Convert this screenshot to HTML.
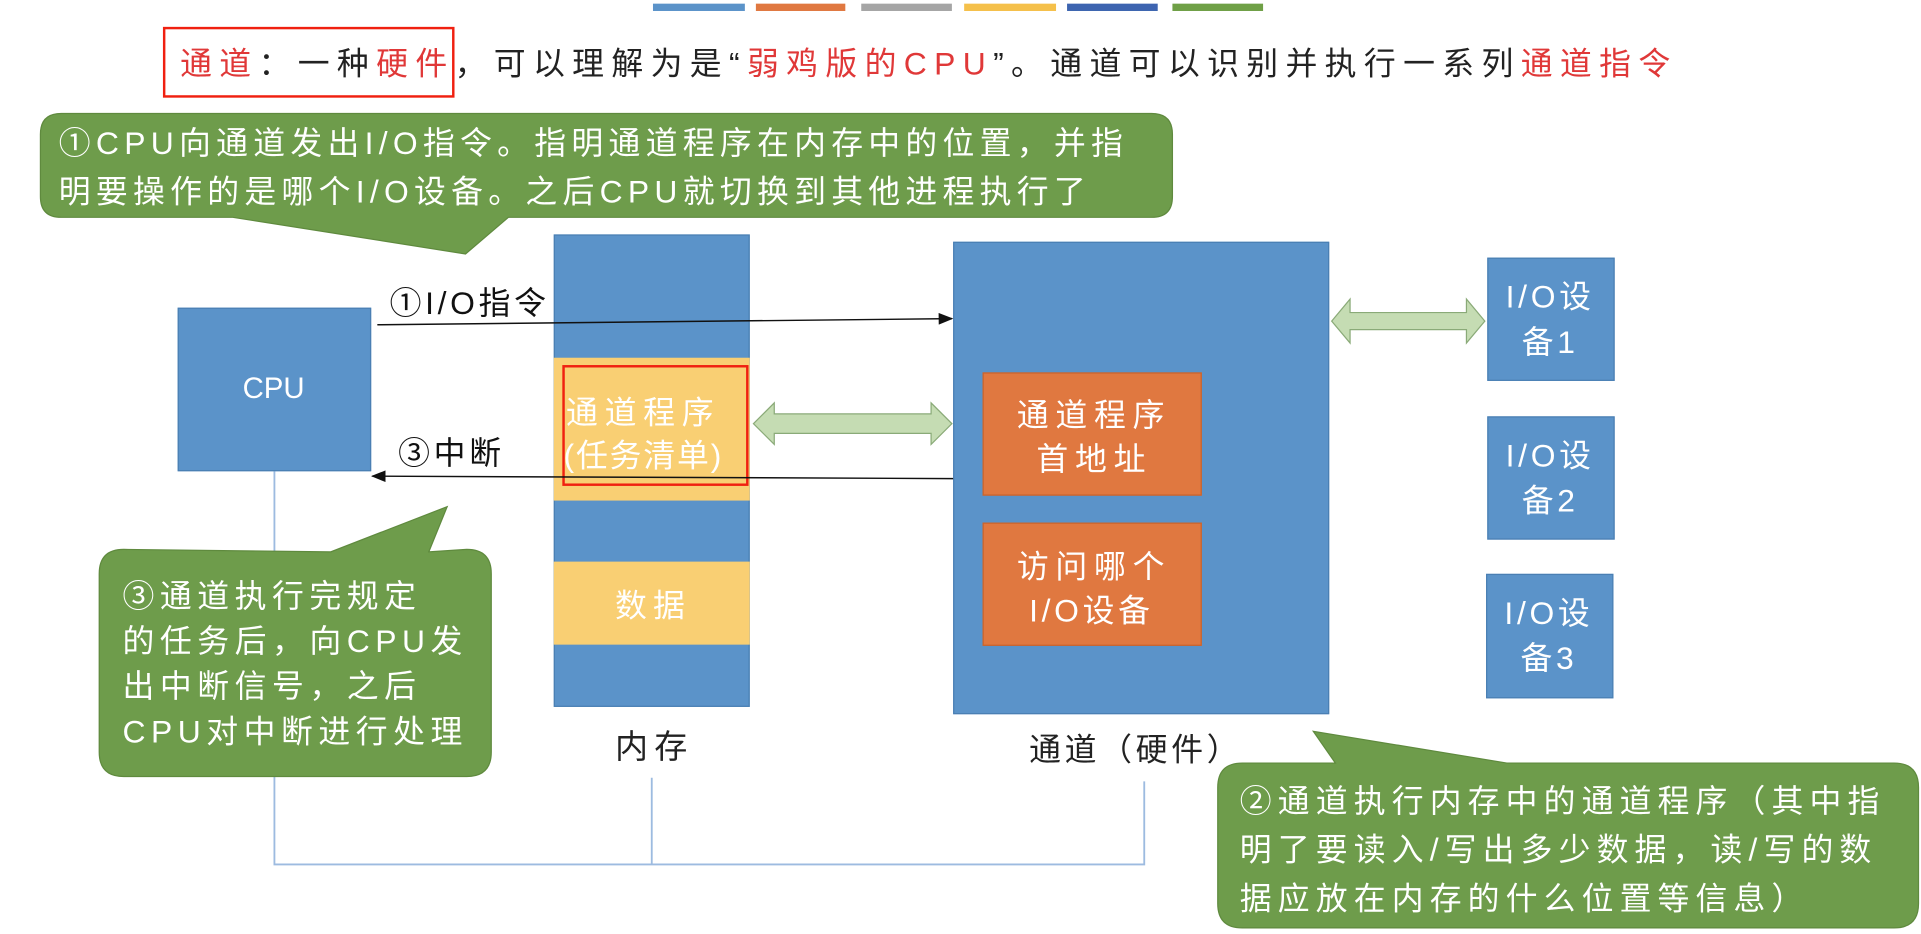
<!DOCTYPE html>
<html><head><meta charset="utf-8"><style>
html,body{margin:0;padding:0;background:#fff;overflow:hidden;width:1921px;height:934px}
#s{position:absolute;left:0;top:0;width:1568px;height:765px;transform:scale(1.2251,1.2209);transform-origin:0 0;font-family:"Liberation Sans","Noto Sans CJK SC",sans-serif}
.a{position:absolute;box-sizing:border-box}
.blue{background:#5b93c9;border:1px solid #4a7fb3}
.yel{background:#f9cf73}
.org{background:#e07840;border:1px solid #c8632c}
.t{position:absolute;white-space:nowrap}
.w{color:#fff}
.r{color:#e03838}
</style></head><body><div id="s">
<div class="a" style="left:533px;top:3px;width:75px;height:6px;background:#5b93c9"></div>
<div class="a" style="left:617px;top:3px;width:73px;height:6px;background:#e07840"></div>
<div class="a" style="left:703px;top:3px;width:74px;height:6px;background:#a5a5a5"></div>
<div class="a" style="left:787px;top:3px;width:75px;height:6px;background:#f5c04a"></div>
<div class="a" style="left:871px;top:3px;width:74px;height:6px;background:#3d64b0"></div>
<div class="a" style="left:957px;top:3px;width:74px;height:6px;background:#6fa046"></div>

<div class="t" style="left:147px;top:32px;font-size:26px;letter-spacing:6px;color:#222"><span class="r">通道</span>：一种<span class="r">硬件</span>，可以理解为是“<span class="r">弱鸡版的CPU</span>”。通道可以识别并执行一系列<span class="r">通道指令</span></div>
<div class="a" style="left:133px;top:22px;width:238px;height:58px;border:2px solid #f02010"></div>

<svg class="a" style="left:0;top:0" width="1568" height="765">
<polyline points="224,386 224,708 934,708 934,640" fill="none" stroke="#9dbbe0" stroke-width="1.5"/>
<line x1="532" y1="637" x2="532" y2="708" stroke="#9dbbe0" stroke-width="1.5"/>
<path d="M33 110 Q33 93 50 93 L940 93 Q957 93 957 110 L957 161 Q957 178 940 178 L415 178 L380 208 L190 178 L50 178 Q33 178 33 161Z" fill="#6e9c4b" stroke="#5f8a3e"/>
<path d="M81 470 Q81 450 101 450 L270 452 L365 415 L350 452 L381 450 Q401 450 401 470 L401 616 Q401 636 381 636 L101 636 Q81 636 81 616Z" fill="#6e9c4b" stroke="#5f8a3e"/>
<path d="M994 645 Q994 625 1014 625 L1090 625 L1072 599 L1230 625 L1546 625 Q1566 625 1566 645 L1566 740 Q1566 760 1546 760 L1014 760 Q994 760 994 740Z" fill="#6e9c4b" stroke="#5f8a3e"/>
</svg>

<div class="a blue" style="left:452px;top:192px;width:160px;height:387px"></div>
<div class="a yel" style="left:452px;top:293px;width:160px;height:117px"></div>
<div class="a yel" style="left:452px;top:460px;width:160px;height:68px"></div>
<div class="t w" style="left:462px;top:318px;font-size:26px;letter-spacing:5.5px">通道程序</div>
<div class="t w" style="left:460px;top:353px;font-size:26px;letter-spacing:1.5px">(任务清单)</div>
<div class="a" style="left:459px;top:299px;width:152px;height:99px;border:2px solid #f02010"></div>
<div class="t w" style="left:502px;top:476px;font-size:26px;letter-spacing:5px">数据</div>
<div class="t" style="left:502px;top:590px;font-size:27px;letter-spacing:5px;color:#222">内存</div>

<div class="a blue" style="left:145px;top:252px;width:158px;height:134px"></div>
<div class="t w" style="left:198px;top:305px;font-size:24px">CPU</div>

<div class="a blue" style="left:778px;top:198px;width:307px;height:387px"></div>
<div class="a org" style="left:802px;top:305px;width:179px;height:101px"></div>
<div class="a org" style="left:802px;top:428px;width:179px;height:101px"></div>
<div class="t w" style="left:830px;top:320px;font-size:26px;letter-spacing:5.5px">通道程序</div>
<div class="t w" style="left:846px;top:356px;font-size:26px;letter-spacing:5.5px">首地址</div>
<div class="t w" style="left:830px;top:444px;font-size:26px;letter-spacing:5.5px">访问哪个</div>
<div class="t w" style="left:840px;top:480px;font-size:26px;letter-spacing:3px">I/O设备</div>
<div class="t" style="left:840px;top:594px;font-size:26px;letter-spacing:3px;color:#222">通道（硬件）</div>

<div class="a blue" style="left:1214px;top:211px;width:104px;height:101px"></div>
<div class="a blue" style="left:1214px;top:341px;width:104px;height:101px"></div>
<div class="a blue" style="left:1213px;top:470px;width:104px;height:102px"></div>
<div class="t w" style="left:1229px;top:225px;font-size:26px;letter-spacing:3px;line-height:37px;text-align:center">I/O设<br>备1</div>
<div class="t w" style="left:1229px;top:355px;font-size:26px;letter-spacing:3px;line-height:37px;text-align:center">I/O设<br>备2</div>
<div class="t w" style="left:1228px;top:484px;font-size:26px;letter-spacing:3px;line-height:37px;text-align:center">I/O设<br>备3</div>

<svg class="a" style="left:0;top:0" width="1568" height="765">
<defs><marker id="m" markerWidth="10" markerHeight="8" refX="9" refY="4" orient="auto"><path d="M0 0L10 4L0 8Z" fill="#111"/></marker></defs>
<line x1="308" y1="266" x2="777" y2="261" stroke="#111" stroke-width="1.2" marker-end="url(#m)"/>
<line x1="778" y1="392" x2="304" y2="390" stroke="#111" stroke-width="1.2" marker-end="url(#m)"/>
<path d="M615 347 L632 330 L632 339 L760 339 L760 330 L777 347 L760 364 L760 355 L632 355 L632 364Z" fill="#c5dcb3" stroke="#8aaa78"/>
<path d="M1087 263 L1102 245 L1102 256 L1197 256 L1197 245 L1212 263 L1197 281 L1197 270 L1102 270 L1102 281Z" fill="#c5dcb3" stroke="#8aaa78"/>
</svg>
<div class="t" style="left:318px;top:228px;font-size:26px;letter-spacing:3px;color:#111">①I/O指令</div>
<div class="t" style="left:325px;top:351px;font-size:26px;letter-spacing:3px;color:#111">③中断</div>

<div class="t w" style="left:48px;top:97px;font-size:26px;letter-spacing:4.3px;line-height:40px">①CPU向通道发出I/O指令。指明通道程序在内存中的位置，并指<br>明要操作的是哪个I/O设备。之后CPU就切换到其他进程执行了</div>
<div class="t w" style="left:100px;top:470px;font-size:26px;letter-spacing:4.5px;line-height:37px">③通道执行完规定<br>的任务后，向CPU发<br>出中断信号，之后<br>CPU对中断进行处理</div>
<div class="t w" style="left:1012px;top:636px;font-size:26px;letter-spacing:5px;line-height:40px">②通道执行内存中的通道程序（其中指<br>明了要读入/写出多少数据，读/写的数<br>据应放在内存的什么位置等信息）</div>
</div></body></html>
